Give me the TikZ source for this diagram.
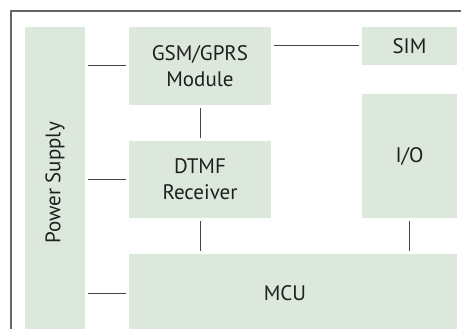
\documentclass[tikz,border=0pt]{standalone}
\usepackage{fontspec}
\setmainfont{PT Sans}
\usepackage{tikz}
\usetikzlibrary{positioning}

\definecolor{blockfill}{RGB}{221,232,220}
\definecolor{linegray}{RGB}{70,70,70}

\begin{document}
\begin{tikzpicture}[x = 1pt, y = -1pt,
        block/.style = {fill = blockfill, inner sep = 0pt, align = center, text = black!88, font = \fontsize{21}{26}\selectfont},
        link/.style = {draw = linegray, line width = 1pt, shorten < = 3pt, shorten > = 3pt}]
            \clip (0,0) rectangle (461,329);
            \draw[black!60, line width = 1.6pt] (11,340) -- (11,11) -- (470,11);
            \node[block, minimum width = 60pt, minimum height = 312pt] (power) at (55,183) {};
            \node[rotate = 90, font = \fontsize{21}{26}\selectfont, text = black!88] (powertext) at (power.center) {Power Supply};
            \node[block, minimum width = 142pt, minimum height = 78pt] (gsm) at (200,66) {GSM/GPRS\\Module};
            \node[block, minimum width = 142pt, minimum height = 77pt] (dtmf) at (200,179.5) {DTMF\\Receiver};
            \node[block, minimum width = 95pt, minimum height = 38pt] (sim) at (409.5,46) {SIM};
            \node[block, minimum width = 95pt, minimum height = 124pt] (io) at (409.5,156) {I/O};
            \node[block, minimum width = 328pt, minimum height = 78pt, text width = 312pt] (mcu) at (293,293) {MCU\hspace*{16pt}};
            % connections
            \draw[link] (gsm.west -| power.east) -- (gsm.west);
            \draw[link] (dtmf.west -| power.east) -- (dtmf.west);
            \draw[link] (mcu.west -| power.east) -- (mcu.west);
            \draw[link] (gsm.east |- sim.west) -- (sim.west);
            \draw[link] (gsm) -- (dtmf);
            \draw[link] (dtmf) -- (dtmf.south |- mcu.north);
            \draw[link] (io) -- (io.south |- mcu.north);
        \end{tikzpicture}
\end{document}
